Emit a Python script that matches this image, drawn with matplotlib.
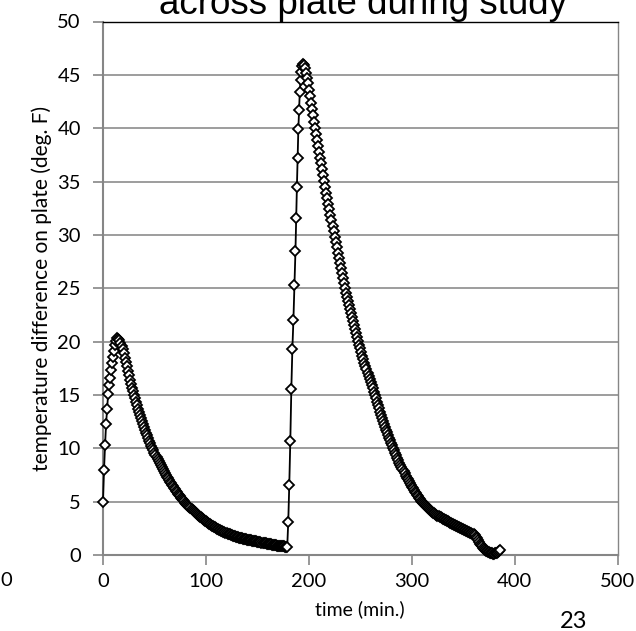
import numpy as np
import matplotlib
matplotlib.use("Agg")
import matplotlib.pyplot as plt

# ---- data: temperature difference across plate (deg. F) vs time (min.) ----
rise1_start = 0
rise1_values = [5.0, 8.0, 10.3, 12.3, 13.7, 15.1, 15.9, 16.6, 17.3, 18.0,
                18.6, 19.1, 19.7, 20.1, 20.35]

decay1_start = 15
decay1_values = [
    20.28, 20.12, 19.90, 19.62, 19.28, 18.90, 18.50, 18.10, 17.68, 17.26,
    16.83, 16.40, 16.04, 15.68, 15.34, 15.00, 14.67, 14.34, 14.03, 13.72,
    13.41, 13.12, 12.83, 12.54, 12.27, 12.00, 11.73, 11.47, 11.22, 10.97,
    10.73, 10.49, 10.26, 10.03, 9.81, 9.60, 9.38, 9.18, 8.97, 8.78,
    8.58, 8.39, 8.21, 8.03, 7.85, 7.68, 7.51, 7.34, 7.18, 7.02,
    6.87, 6.72, 6.57, 6.42, 6.28, 6.14, 6.01, 5.87, 5.74, 5.62,
    5.49, 5.37, 5.25, 5.14, 5.02, 4.91, 4.80, 4.70, 4.60, 4.49,
    4.40, 4.30, 4.20, 4.11, 4.02, 3.93, 3.85, 3.76, 3.68, 3.60,
    3.52, 3.44, 3.36, 3.29, 3.22, 3.15, 3.08, 3.01, 2.94, 2.88,
    2.82, 2.75, 2.69, 2.64, 2.58, 2.53, 2.48, 2.43, 2.38, 2.33,
    2.28, 2.23, 2.18, 2.14, 2.09, 2.05, 2.01, 1.97, 1.93, 1.89,
    1.86, 1.82, 1.79, 1.76, 1.73, 1.70, 1.67, 1.64, 1.62, 1.59,
    1.57, 1.54, 1.52, 1.50, 1.47, 1.45, 1.43, 1.41, 1.39, 1.37,
    1.35, 1.33, 1.31, 1.29, 1.27, 1.25, 1.23, 1.21, 1.19, 1.17,
    1.15, 1.13, 1.11, 1.09, 1.07, 1.05, 1.03, 1.01, 0.99, 0.97,
    0.96, 0.94, 0.92, 0.91, 0.89, 0.88, 0.86, 0.85, 0.83, 0.82,
    0.81, 0.80, 0.79, 0.78, 0.77,
]

rise2_minutes = [180, 181, 182, 183, 184, 185, 186, 187, 187.7, 188.4,
                 189.1, 189.8, 190.5, 191.2, 191.9, 192.6, 193.3, 194]
rise2_values = [3.1, 6.6, 10.7, 15.6, 19.3, 22.0, 25.3, 28.5, 31.6, 34.5,
                37.2, 39.9, 41.7, 43.4, 44.5, 45.3, 45.8, 46.0]

decay2_start = 195
decay2_values = [
    45.9, 45.6, 45.2, 44.7, 44.2, 43.6, 43.0, 42.4, 41.8, 41.2,
    40.6, 40.0, 39.45, 38.9, 38.35, 37.8, 37.25, 36.7, 36.15, 35.6,
    35.05, 34.5, 33.97, 33.44, 32.91, 32.39, 31.87, 31.35, 30.84, 30.33,
    29.83, 29.33, 28.83, 28.34, 27.85, 27.36, 26.88, 26.41, 25.94, 25.47,
    25.01, 24.60, 24.20, 23.80, 23.41, 23.02, 22.64, 22.26, 21.89, 21.52,
    21.16, 20.80, 20.45, 20.05, 19.70, 19.36, 19.02, 18.69, 18.36, 18.04,
    17.72, 17.41, 17.10, 16.80, 16.50, 16.21, 15.92, 15.62, 15.32, 15.02,
    14.69, 14.37, 14.05, 13.74, 13.44, 13.14, 12.85, 12.57, 12.29, 12.02,
    11.76, 11.50, 11.25, 11.00, 10.76, 10.52, 10.29, 10.06, 9.82, 9.58,
    9.34, 9.11, 8.88, 8.66, 8.45, 8.24, 8.03, 7.83, 7.64, 7.45,
    7.26, 7.08, 6.90, 6.73, 6.56, 6.40, 6.24, 6.08, 5.93, 5.78,
    5.64, 5.50, 5.36, 5.23, 5.10, 4.98, 4.87, 4.77, 4.67, 4.57,
    4.48, 4.39, 4.30, 4.22, 4.14, 4.06, 3.98, 3.91, 3.84, 3.77,
    3.70, 3.64, 3.58, 3.52, 3.46, 3.40, 3.35, 3.29, 3.24, 3.19,
    3.14, 3.09, 3.04, 2.99, 2.94, 2.89, 2.84, 2.79, 2.74, 2.69,
    2.64, 2.59, 2.54, 2.50, 2.45, 2.41, 2.36, 2.32, 2.28, 2.24,
    2.20, 2.15, 2.10, 2.04, 1.99, 1.94, 1.86, 1.72, 1.55, 1.37,
    1.20, 1.05, 0.92, 0.80, 0.69, 0.59, 0.50, 0.42, 0.35, 0.29,
    0.24, 0.20, 0.17, 0.15, 0.14, 0.14, 0.15, 0.17, 0.21, 0.27,
    0.36, 0.47,
]

x_ticks = [0, 100, 200, 300, 400, 500]
y_ticks = [0, 5, 10, 15, 20, 25, 30, 35, 40, 45, 50]

# ---- assemble the series ----
minutes = np.concatenate([
    rise1_start + np.arange(len(rise1_values)),
    decay1_start + np.arange(len(decay1_values)),
    np.array(rise2_minutes, dtype=float),
    decay2_start + np.arange(len(decay2_values)),
])
delta_t = np.concatenate([rise1_values, decay1_values, rise2_values, decay2_values])

# ---- figure ----
W, H = 636, 631
fig = plt.figure(figsize=(W / 100, H / 100), dpi=100)
ax = fig.add_axes([103 / W, 1 - 555 / H, (617.6 - 103) / W, (555 - 21.5) / H])

tick_font = "Lato"
grid_grey = "#8c8c8c"
axis_grey = "#868686"

ax.plot(minutes, delta_t, color="black", lw=1.3, marker="D", ms=5,
        mfc="white", mec="black", mew=1.3, zorder=3, clip_on=False)

ax.set_xlim(0, 500)
ax.set_ylim(0, 50)
ax.set_xticks(x_ticks)
ax.set_yticks(y_ticks)
ax.set_xticklabels([str(v) for v in x_ticks], fontname=tick_font, fontsize=14.5)
ax.set_yticklabels([str(v) for v in y_ticks], fontname=tick_font, fontsize=14.5)
ax.tick_params(axis="both", direction="out", length=7, width=1.2,
               color=axis_grey, pad=6, labelcolor="black")
ax.tick_params(axis="y", pad=9)

ax.yaxis.grid(True, color=grid_grey, lw=1.2)
ax.set_axisbelow(True)

for side in ("left", "bottom"):
    ax.spines[side].set_color(axis_grey)
    ax.spines[side].set_linewidth(1.5)
ax.spines["top"].set_color("black")
ax.spines["top"].set_linewidth(1.0)
ax.spines["right"].set_color(axis_grey)
ax.spines["right"].set_linewidth(1.0)

ax.set_xlabel("time (min.)", fontname=tick_font, fontsize=14, labelpad=7)
ax.set_ylabel("temperature difference on plate (deg. F)", fontname=tick_font,
              fontsize=15, labelpad=4)

# title whose upper line runs off the top edge
fig.text(363 / W, 1 - 14 / H, "across plate during study", ha="center",
         va="baseline", fontname="Liberation Sans", fontsize=26.5)

# stray labels at the page edges
fig.text(6 / W, 1 - 580 / H, "0", ha="center", va="center",
         fontname=tick_font, fontsize=14.5)
fig.text(574 / W, 1 - 621 / H, "23", ha="center", va="center",
         fontname=tick_font, fontsize=17)

fig.savefig("out.png", dpi=100, facecolor="white")
